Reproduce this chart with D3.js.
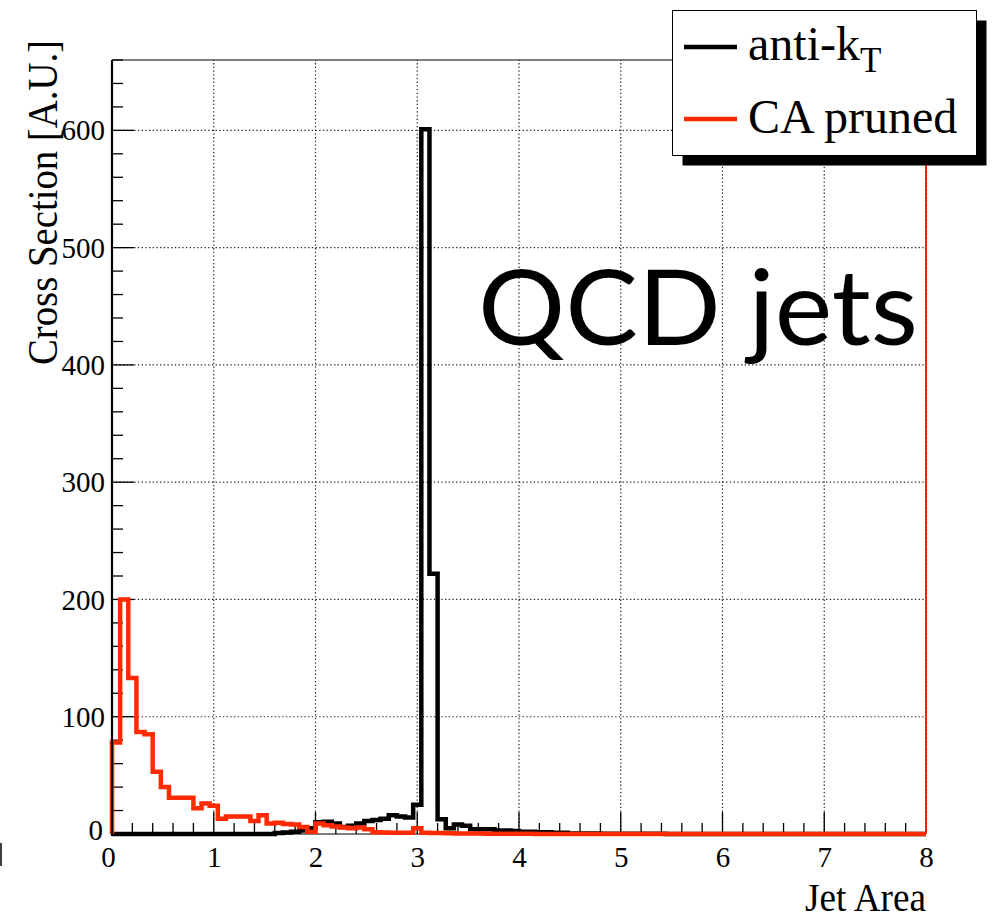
<!DOCTYPE html>
<html>
<head>
<meta charset="utf-8">
<script src="https://cdn.jsdelivr.net/npm/d3@7"></script>
<style>
  html, body { margin: 0; padding: 0; background: #fff; }
  svg { display: block; }
</style>
</head>
<body>
<svg id="chart" width="995" height="919"></svg>
<script>
// ---------------- data ----------------
const binLow = 0, binHigh = 8, nBins = 100;
const xTicks = [0, 1, 2, 3, 4, 5, 6, 7, 8];
const yTicks = [0, 100, 200, 300, 400, 500, 600];

// anti-kT jet-area histogram (100 bins of width 0.08)
const antiKt = [
  0, 0, 0, 0, 0, 0, 0, 0, 0, 0,
  0, 0, 0, 0, 0, 0, 0, 0, 0, 0,
  0.8, 1.2, 2, 3, 5, 10, 10.5, 9, 6, 7,
  9, 11, 12, 13, 16, 15, 14, 25, 601, 222,
  12.5, 5, 8, 7, 4, 4, 4, 3, 3, 2.5,
  2, 2, 1.5, 1.5, 1, 1, 0.5, 0.5, 0.4, 0.4,
  0.3, 0.3, 0.3, 0.2, 0.2, 0.2, 0.2, 0.2, 0.1, 0.1,
  0.1, 0.1, 0.1, 0.1, 0.1, 0, 0, 0, 0, 0,
  0, 0, 0, 0, 0, 0, 0, 0, 0, 0,
  0, 0, 0, 0, 0, 0, 0, 0, 0, 0
];
// CA pruned jet-area histogram
const caPruned = [
  78, 200, 133, 87, 85, 53, 40, 31, 31, 31,
  22, 26, 24, 13, 15, 15, 15, 11, 16, 9,
  9.5, 8.5, 8, 6, 2, 9, 7.5, 6.3, 5.5, 5,
  5.5, 4, 1.5, 1.2, 1, 1, 1, 5, 1, 0.8,
  0.8, 0.6, 0.5, 0.5, 0.4, 0.4, 0.3, 0.3, 0.3, 0.2,
  0.2, 0.2, 0.1, 0.1, 0.1, 0, 0, 0, 0, 0,
  0, 0, 0, 0, 0, 0, 0, 0, 0, 0,
  0, 0, 0, 0, 0, 0, 0, 0, 0, 0,
  0, 0, 0, 0, 0, 0, 0, 0, 0, 0,
  0, 0, 0, 0, 0, 0, 0, 0, 0, 0
];
const seriesNames = ["anti-k", "CA pruned"];

// ---------------- layout ----------------
const svg = d3.select("#chart");
const L = 112, R = 926, T = 60, B = 834;
const x = d3.scaleLinear().domain([binLow, binHigh]).range([L, R]);
const y = d3.scaleLinear().domain([0, 660]).range([B, T]);
const RED = "#ff2a00";
const serif = "'Liberation Serif', 'Times New Roman', serif";

// grid (dotted)
const grid = svg.append("g").attr("stroke", "#222").attr("stroke-width", 1.2)
  .attr("stroke-dasharray", "1.3,2.4");
xTicks.filter(d => d > 0).forEach(d => {
  grid.append("line").attr("x1", x(d)).attr("x2", x(d)).attr("y1", B).attr("y2", T);
});
yTicks.filter(d => d > 0).forEach(d => {
  grid.append("line").attr("x1", L).attr("x2", R).attr("y1", y(d)).attr("y2", y(d));
});

// frame
svg.append("line").attr("x1", L).attr("x2", R).attr("y1", T).attr("y2", T)
  .attr("stroke", "#000").attr("stroke-width", 1.2);
svg.append("line").attr("x1", L).attr("x2", R).attr("y1", B).attr("y2", B)
  .attr("stroke", "#000").attr("stroke-width", 1.2);

// ticks: x axis (inside, upward)
const xMinor = d3.range(0, 8.0001, 0.2);
const tickG = svg.append("g").attr("stroke", "#000").attr("stroke-width", 1.3);
xMinor.forEach(v => {
  const isMajor = Math.abs(v - Math.round(v)) < 1e-6;
  tickG.append("line").attr("x1", x(v)).attr("x2", x(v))
    .attr("y1", B).attr("y2", B - (isMajor ? 22 : 11));
});
const yMinor = d3.range(0, 660.001, 20);
yMinor.forEach(v => {
  const isMajor = Math.abs(v % 100) < 1e-6;
  tickG.append("line").attr("y1", y(v)).attr("y2", y(v))
    .attr("x1", L).attr("x2", L + (isMajor ? 22 : 11));
});

// tick labels
const xAxis = d3.axisBottom(x).tickValues(xTicks).tickSize(0).tickPadding(0);
const gx = svg.append("g").attr("transform", `translate(0,${B})`).call(xAxis);
gx.select(".domain").remove();
gx.selectAll("text").attr("font-family", serif).attr("font-size", 29)
  .attr("fill", "#000").attr("dy", null).attr("y", 33);
gx.selectAll(".tick").filter(d => d === 0).select("text").attr("x", -4);

const yAxis = d3.axisLeft(y).tickValues(yTicks).tickSize(0).tickPadding(0);
const gy = svg.append("g").attr("transform", `translate(${L - 7},0)`).call(yAxis);
gy.select(".domain").remove();
gy.selectAll("text").attr("font-family", serif).attr("font-size", 29)
  .attr("fill", "#000").attr("dy", "0.33em").attr("x", 0);
gy.selectAll(".tick").filter(d => d === 0).select("text").attr("x", -2).attr("dy", "0.2em");

// histograms
const edges = d3.range(nBins).map(i => binLow + i * (binHigh - binLow) / nBins);
function histPoints(vals) {
  const pts = [[binLow, 0]];
  vals.forEach((v, i) => pts.push([edges[i], v]));
  pts.push([binHigh, vals[vals.length - 1]]);
  pts.push([binHigh, 0]);
  return pts;
}
const stepLine = d3.line().x(d => x(d[0])).y(d => y(d[1])).curve(d3.curveStepAfter);

svg.append("path").attr("d", stepLine(histPoints(antiKt)))
  .attr("fill", "none").attr("stroke", "#000").attr("stroke-width", 4.5)
  .attr("stroke-linejoin", "miter");
svg.append("path").attr("d", stepLine(histPoints(caPruned)))
  .attr("fill", "none").attr("stroke", RED).attr("stroke-width", 4.5)
  .attr("stroke-linejoin", "miter");

// left axis line (thick) and right frame edge (red with dotted overlay)
svg.append("line").attr("x1", L).attr("x2", L).attr("y1", T).attr("y2", B + 2)
  .attr("stroke", "#000").attr("stroke-width", 2.2);
svg.append("line").attr("x1", R).attr("x2", R).attr("y1", T).attr("y2", B)
  .attr("stroke", RED).attr("stroke-width", 2);
svg.append("line").attr("x1", R).attr("x2", R).attr("y1", T).attr("y2", B)
  .attr("stroke", "#333").attr("stroke-width", 1).attr("stroke-dasharray", "1.3,2.4");

// axis titles
svg.append("text").attr("x", R).attr("y", 911).attr("text-anchor", "end")
  .attr("font-family", serif).attr("font-size", 40).attr("fill", "#000")
  .attr("textLength", 121).attr("lengthAdjust", "spacingAndGlyphs")
  .text("Jet Area");
svg.append("text").attr("transform", "translate(57,40) rotate(-90)")
  .attr("text-anchor", "end")
  .attr("font-family", serif).attr("font-size", 42).attr("fill", "#000")
  .attr("textLength", 325).attr("lengthAdjust", "spacingAndGlyphs")
  .text("Cross Section [A.U.]");

// big label
svg.append("text").attr("x", 478).attr("y", 345)
  .attr("font-family", "Lato, 'Open Sans', sans-serif").attr("font-size", 105)
  .attr("fill", "#000").attr("textLength", 440).attr("lengthAdjust", "spacingAndGlyphs")
  .text("QCD jets");

// legend
const lg = svg.append("g");
lg.append("rect").attr("x", 682.5).attr("y", 20.5).attr("width", 304).attr("height", 145)
  .attr("fill", "#000");
lg.append("rect").attr("x", 672.5).attr("y", 10.5).attr("width", 304).attr("height", 145)
  .attr("fill", "#fff").attr("stroke", "#000").attr("stroke-width", 1);
lg.append("line").attr("x1", 684).attr("x2", 737).attr("y1", 47).attr("y2", 47)
  .attr("stroke", "#000").attr("stroke-width", 4.5);
lg.append("line").attr("x1", 684).attr("x2", 737).attr("y1", 119).attr("y2", 119)
  .attr("stroke", RED).attr("stroke-width", 4.5);
const t1 = lg.append("text").attr("x", 748).attr("y", 60)
  .attr("font-family", serif).attr("font-size", 48).attr("fill", "#000");
t1.append("tspan").text(seriesNames[0]);
t1.append("tspan").attr("font-size", 35).attr("dy", 12).text("T");
lg.append("text").attr("x", 748).attr("y", 133)
  .attr("font-family", serif).attr("font-size", 48).attr("fill", "#000")
  .text(seriesNames[1]);

// fragment of a cut-off stroke at the far left edge
svg.append("line").attr("x1", 1).attr("x2", 1).attr("y1", 843).attr("y2", 866)
  .attr("stroke", "#000").attr("stroke-width", 1.5);
</script>
</body>
</html>
